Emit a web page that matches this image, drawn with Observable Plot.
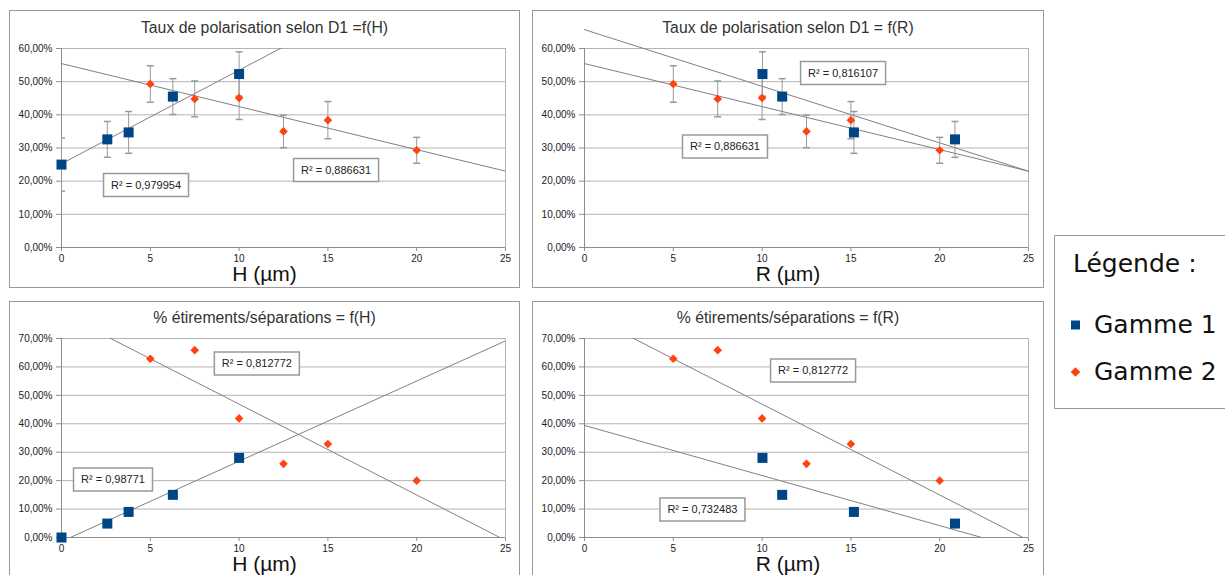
<!DOCTYPE html>
<html><head><meta charset="utf-8">
<script src="https://cdn.jsdelivr.net/npm/d3@7"></script>
<script src="https://cdn.jsdelivr.net/npm/@observablehq/plot@0.6"></script>
<style>
body{margin:0;background:#fff;}
#root{position:relative;width:1225px;height:575px;overflow:hidden;background:#fff;}
.frame{position:absolute;border:1px solid #999;box-sizing:border-box;}
.chart{position:absolute;}
.chart svg{overflow:visible;}
#legend{position:absolute;left:1054px;top:235px;}
</style></head>
<body><div id="root"></div>
<script>
// ---- data ----
const xTicks = [0, 5, 10, 15, 20, 25];
const polTicks = [0, 10, 20, 30, 40, 50, 60];
const etirTicks = [0, 10, 20, 30, 40, 50, 60, 70];
const g1H = [0, 2.58, 3.78, 6.27, 10];
const g1R = [null, 20.86, 15.17, 11.13, 10.02];
const g1Pol = [25.0, 32.6, 34.7, 45.5, 52.3];
const g1PolErr = [8.0, 5.4, 6.3, 5.4, 6.7];
const g1Etir = [0, 4.9, 9.0, 15.0, 28.0];
const g2H = [5, 7.5, 10, 12.5, 15, 20];
const g2R = [5, 7.5, 10, 12.5, 15, 20];
const g2Pol = [49.3, 44.8, 45.1, 35.0, 38.4, 29.3];
const g2PolErr = [5.5, 5.4, 6.5, 4.9, 5.6, 3.9];
const g2Etir = [62.9, 65.9, 41.9, 25.9, 32.9, 20.0];
const r2PolH = ["R² = 0,979954", "R² = 0,886631"];
const r2PolR = ["R² = 0,816107", "R² = 0,886631"];
const r2EtirH = ["R² = 0,98771", "R² = 0,812772"];
const r2EtirR = ["R² = 0,812772", "R² = 0,732483"];
const titles = ["Taux de polarisation selon D1 =f(H)", "Taux de polarisation selon D1 = f(R)",
                "% étirements/séparations = f(H)", "% étirements/séparations = f(R)"];
const xLabels = ["H (µm)", "R (µm)", "H (µm)", "R (µm)"];
const seriesNames = ["Gamme 1", "Gamme 2"];

const BLUE = "#004586", ORANGE = "#ff420e";
const g1 = g1H.map((h, i) => ({H: h, R: g1R[i], pol: g1Pol[i], err: g1PolErr[i], etir: g1Etir[i]}));
const g2 = g2H.map((h, i) => ({H: h, R: g2R[i], pol: g2Pol[i], err: g2PolErr[i], etir: g2Etir[i]}));

const fmtPct = d => d.toFixed(2).replace(".", ",") + "%";
const capSym = {draw(ctx, size){const r = Math.sqrt(size / Math.PI); ctx.moveTo(-r, 0); ctx.lineTo(r, 0);}};
const squareSym = {draw(ctx, size){const r = Math.sqrt(size / Math.PI); ctx.rect(-r, -r, 2 * r, 2 * r);}};
const diamondSym = {draw(ctx, size){const r = Math.sqrt(size / Math.PI); ctx.moveTo(0, -r); ctx.lineTo(r, 0); ctx.lineTo(0, r); ctx.lineTo(-r, 0); ctx.closePath();}};
const boxSym = (w, h) => ({draw(ctx){ctx.rect(-w / 2, -h / 2, w, h);}});

function regress(data, xk, yk) {
  const pts = data.filter(d => d[xk] != null);
  const mx = d3.mean(pts, d => d[xk]), my = d3.mean(pts, d => d[yk]);
  const sxy = d3.sum(pts, d => (d[xk] - mx) * (d[yk] - my));
  const sxx = d3.sum(pts, d => (d[xk] - mx) ** 2);
  const m = sxy / sxx;
  return d3.extent(xTicks).map(x => ({x, y: my + m * (x - mx)}));
}

const panels = [
  {left: 9, top: 11, width: 510, height: 276, mt: 37, xk: "H", yk: "pol", err: true, yTicks: polTicks, clip: true,
   r2: r2PolH, pos: [[4.76, 18.84], [15.46, 23.37]]},
  {left: 532, top: 11, width: 511, height: 276, mt: 37, xk: "R", yk: "pol", err: true, yTicks: polTicks, clip: false,
   r2: r2PolR, pos: [[14.56, 52.6], [7.91, 30.45]]},
  {left: 9, top: 302, width: 510, height: 275, mt: 36, xk: "H", yk: "etir", err: false, yTicks: etirTicks, clip: true,
   r2: r2EtirH, pos: [[2.90, 20.4], [11.0, 61.2]]},
  {left: 532, top: 302, width: 511, height: 275, mt: 36, xk: "R", yk: "etir", err: false, yTicks: etirTicks, clip: true,
   r2: r2EtirR, pos: [[12.87, 58.7], [6.64, 9.85]]}
];
const frames = [
  {left: 9, top: 10, width: 511, height: 278},
  {left: 532, top: 10, width: 512, height: 278},
  {left: 9, top: 301, width: 511, height: 400},
  {left: 532, top: 301, width: 512, height: 400}
];

const root = document.getElementById("root");
frames.forEach(f => {
  const d = document.createElement("div");
  d.className = "frame";
  Object.assign(d.style, {left: f.left + "px", top: f.top + "px", width: f.width + "px", height: f.height + "px"});
  root.appendChild(d);
});

panels.forEach((p, k) => {
  const ML = 52, PW = 444, MR = p.width - ML - PW;
  const dxCenter = p.width / 2 - (ML + PW / 2);
  const d1 = g1.filter(d => d[p.xk] != null);
  const marks = [
    Plot.frame({stroke: "#b3b3b3"}),
    Plot.ruleY(p.yTicks.slice(1), {stroke: "#b3b3b3"}),
    Plot.ruleY([0], {stroke: "#8c8c8c"}),
    Plot.ruleX([0], {stroke: "#8c8c8c"}),
    Plot.line(regress(g1, p.xk, p.yk), {x: "x", y: "y", stroke: "#808080", strokeWidth: 1, clip: p.clip}),
    Plot.line(regress(g2, p.xk, p.yk), {x: "x", y: "y", stroke: "#808080", strokeWidth: 1, clip: p.clip})
  ];
  if (p.err) {
    [d1, g2].forEach(ds => {
      marks.push(Plot.ruleX(ds, {x: p.xk, y1: d => d[p.yk] - d.err, y2: d => d[p.yk] + d.err, stroke: "#999", clip: p.clip}));
      marks.push(Plot.dot(ds, {x: p.xk, y: d => d[p.yk] - d.err, symbol: capSym, r: 3.5, fill: "none", stroke: "#999", clip: p.clip}));
      marks.push(Plot.dot(ds, {x: p.xk, y: d => d[p.yk] + d.err, symbol: capSym, r: 3.5, fill: "none", stroke: "#999", clip: p.clip}));
    });
  }
  marks.push(Plot.dot(d1, {x: p.xk, y: p.yk, symbol: squareSym, r: 5, fill: BLUE, stroke: "none"}));
  marks.push(Plot.dot(g2, {x: p.xk, y: p.yk, symbol: diamondSym, r: 4.3, fill: ORANGE, stroke: "none"}));
  p.r2.forEach((t, i) => {
    const w = 7 + t.length * 6;
    marks.push(Plot.dot([t], {x: () => p.pos[i][0], y: () => p.pos[i][1], symbol: boxSym(w, 23), r: 1, fill: "white", stroke: "#999"}));
    marks.push(Plot.text([t], {x: () => p.pos[i][0], y: () => p.pos[i][1], text: d => d, fontSize: 11, fill: "#222"}));
  });
  marks.push(Plot.text([titles[k]], {frameAnchor: "top", dy: -21, dx: dxCenter, text: d => d, fontSize: 15.8, fill: "#333", lineAnchor: "middle"}));
  marks.push(Plot.text([xLabels[k]], {frameAnchor: "bottom", dy: 27, dx: dxCenter, text: d => d, fontSize: 21, fill: "#111", lineAnchor: "middle"}));

  const svg = Plot.plot({
    width: p.width, height: p.height,
    marginLeft: ML, marginRight: MR, marginTop: p.mt, marginBottom: 40,
    style: {fontFamily: "'Liberation Sans', Arial, sans-serif", fontSize: "10px", color: "#222", background: "transparent", overflow: "visible"},
    x: {domain: d3.extent(xTicks), ticks: xTicks, tickFormat: d => String(d), tickSize: 4, tickPadding: 3, label: null},
    y: {domain: d3.extent(p.yTicks), ticks: p.yTicks, tickFormat: fmtPct, tickSize: 5, tickPadding: 4, label: null},
    marks
  });
  d3.select(svg).selectAll('g[aria-label="x-axis tick"] path, g[aria-label="y-axis tick"] path, g[aria-label="x-axis"] .tick line, g[aria-label="y-axis"] .tick line')
    .attr("stroke", "#8c8c8c");
  d3.select(svg).selectAll('g[aria-label="x-axis"] .domain, g[aria-label="y-axis"] .domain').remove();
  const holder = document.createElement("div");
  holder.className = "chart";
  holder.style.left = p.left + "px";
  holder.style.top = p.top + "px";
  holder.appendChild(svg);
  root.appendChild(holder);
});

// ---- legend ----
const leg = d3.select(root).append("svg").attr("id", "legend").attr("width", 172).attr("height", 174)
  .style("font-family", "'DejaVu Sans', sans-serif");
leg.append("rect").attr("x", 0.5).attr("y", 0.5).attr("width", 200).attr("height", 173).attr("fill", "white").attr("stroke", "#999");
leg.append("text").attr("x", 19).attr("y", 37).attr("font-size", 25).attr("fill", "#111").text("Légende :");
leg.append("path").attr("d", d3.symbol(squareSym, Math.PI * 4.5 * 4.5)()).attr("transform", "translate(21.5,90)").attr("fill", BLUE);
leg.append("text").attr("x", 40).attr("y", 98).attr("font-size", 25).attr("fill", "#111").text(seriesNames[0]);
leg.append("path").attr("d", d3.symbol(diamondSym, Math.PI * 4.8 * 4.8)()).attr("transform", "translate(21.5,137)").attr("fill", ORANGE);
leg.append("text").attr("x", 40).attr("y", 145).attr("font-size", 25).attr("fill", "#111").text(seriesNames[1]);
</script>
</body></html>
